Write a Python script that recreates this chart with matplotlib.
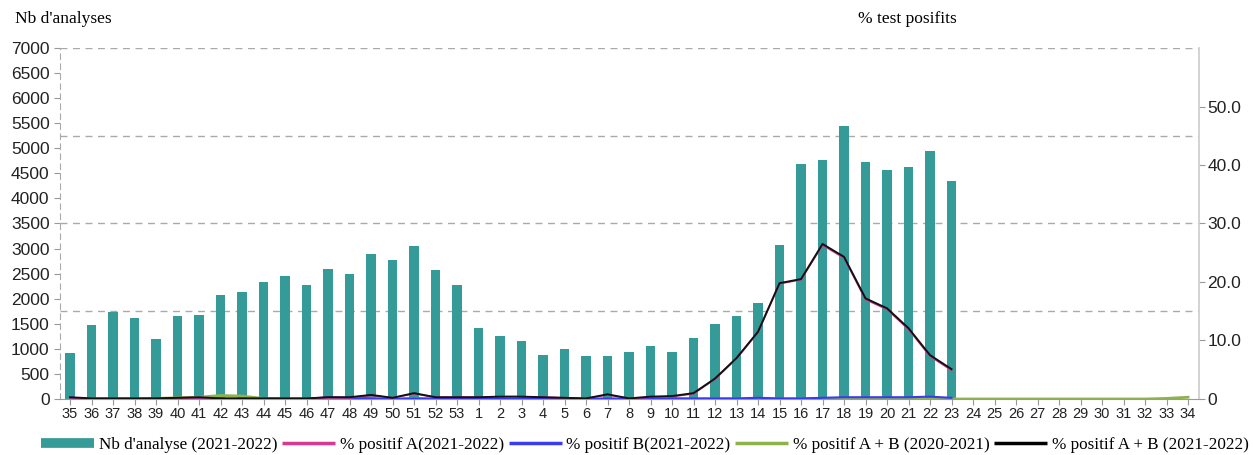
import numpy as np
import matplotlib
matplotlib.use('Agg')
import matplotlib.pyplot as plt
from matplotlib.lines import Line2D

# ── data ──────────────────────────────────────────────────────────────────────
weeks = [str(w) for w in range(35, 54)] + [str(w) for w in range(1, 35)]

nb_analyses = [920, 1480, 1740, 1610, 1200, 1660, 1680, 2070, 2130, 2340,
               2460, 2280, 2600, 2490, 2900, 2780, 3060, 2580, 2270,
               1420, 1250, 1150, 870, 1000, 860, 860, 930, 1060, 930,
               1210, 1500, 1660, 1910, 3070, 4690, 4760, 5440, 4720, 4560,
               4620, 4940, 4350]

pos_ab_2122 = [0.3, 0.1, 0.1, 0.1, 0.1, 0.2, 0.3, 0.1, 0.1, 0.1,
               0.1, 0.1, 0.3, 0.3, 0.7, 0.2, 1.0, 0.3, 0.3,
               0.3, 0.4, 0.4, 0.3, 0.2, 0.1, 0.8, 0.1, 0.4, 0.5,
               1.0, 3.5, 7.0, 11.5, 19.8, 20.5, 26.5, 24.3, 17.2, 15.5,
               12.1, 7.5, 5.1]

pos_a_2122 = [0.2, 0.1, 0.1, 0.1, 0.1, 0.1, 0.2, 0.1, 0.1, 0.1,
              0.1, 0.1, 0.2, 0.2, 0.6, 0.2, 0.9, 0.3, 0.3,
              0.3, 0.4, 0.4, 0.3, 0.2, 0.1, 0.7, 0.1, 0.3, 0.4,
              0.9, 3.4, 6.9, 11.4, 19.7, 20.4, 26.3, 24.1, 17.0, 15.3,
              11.9, 7.3, 4.9]

pos_b_2122 = [0.0, 0.0, 0.0, 0.0, 0.1, 0.1, 0.1, 0.0, 0.0, 0.0,
              0.0, 0.0, 0.3, 0.2, 0.1, 0.0, 0.1, 0.0, 0.0,
              0.0, 0.0, 0.0, 0.0, 0.0, 0.0, 0.1, 0.0, 0.1, 0.1,
              0.1, 0.1, 0.1, 0.2, 0.1, 0.1, 0.2, 0.3, 0.3, 0.3,
              0.3, 0.4, 0.2]

pos_ab_2021 = [0.0, 0.0, 0.0, 0.0, 0.1, 0.2, 0.3, 0.6, 0.5, 0.1,
               0.0, 0.0, 0.1, 0.1, 0.1, 0.0, 0.1, 0.1, 0.1,
               0.0, 0.0, 0.0, 0.0, 0.0, 0.0, 0.0, 0.0, 0.0, 0.0,
               0.0, 0.0, 0.0, 0.0, 0.0, 0.0, 0.0, 0.0, 0.0, 0.0,
               0.0, 0.0, 0.0, 0.0, 0.0, 0.0, 0.0, 0.0, 0.0, 0.0,
               0.0, 0.0, 0.1, 0.3]

teal = '#359b98'
pink = '#d6398f'
blue = '#3a3af5'
green = '#8fb24f'

# ── figure ────────────────────────────────────────────────────────────────────
fig = plt.figure(figsize=(12.53, 4.55), dpi=100)
ax = fig.add_axes([0.0479, 0.1231, 0.9090, 0.7714])
ax2 = ax.twinx()

x = np.arange(len(weeks))
n = len(nb_analyses)

ax.bar(x[:n], nb_analyses, width=0.43, color=teal, zorder=2)
ax.set_xlim(-0.465, 52.51)
ax.set_ylim(0, 7000)
ax.set_yticks(np.arange(0, 7001, 500))
ax.set_xticks(x)
ax.set_xticklabels(weeks)

for g in [1750, 3500, 5250, 7000]:
    ax.axhline(g, color='#aaaaaa', linestyle=(0, (5, 4)), linewidth=1.0, zorder=1)

ax2.plot(x[:len(pos_ab_2021)], pos_ab_2021, color=green, linewidth=2.0, zorder=3)
ax2.plot(x[:n], pos_b_2122, color=blue, linewidth=1.5, zorder=4)
ax2.plot(x[:n], pos_a_2122, color=pink, linewidth=1.2, zorder=5)
ax2.plot(x[:n], pos_ab_2122, color='#111111', linewidth=1.4, zorder=6)
ax2.set_ylim(0, 60)
ax2.set_yticks([0, 10, 20, 30, 40, 50])
ax2.set_yticklabels(['0', '10.0', '20.0', '30.0', '40.0', '50.0'])

tickfont = 'Liberation Sans'
for a in (ax, ax2):
    a.tick_params(axis='y', labelsize=12.5, colors='#222222', length=4, width=0.8)
    for lbl in a.get_yticklabels():
        lbl.set_family(tickfont)
ax.tick_params(axis='y', color='#999999')
ax2.tick_params(axis='y', color='#999999', pad=2)
ax.tick_params(axis='x', labelsize=10.5, colors='#222222', length=4, width=0.8, pad=2)
ax.tick_params(axis='x', color='#999999')
for lbl in ax.get_xticklabels():
    lbl.set_family(tickfont)

for a in (ax, ax2):
    for s in ('top', 'left', 'right', 'bottom'):
        a.spines[s].set_visible(False)
ax2.spines['right'].set_visible(True)
ax2.spines['right'].set_color('#cccccc')
ax2.spines['right'].set_linewidth(1.2)
ax2.spines['left'].set_visible(True)
ax2.spines['left'].set_color('#aaaaaa')
ax2.spines['left'].set_linestyle((0, (5, 4)))
ax2.spines['bottom'].set_visible(True)
ax2.spines['bottom'].set_color('#999999')

serif = 'Liberation Serif'
fig.text(15 / 1253, 1 - 19 / 455, "Nb d'analyses", family=serif, fontsize=12.5,
         va='center', ha='left')
fig.text(858 / 1253, 1 - 19 / 455, "% test posifits", family=serif, fontsize=12.5,
         va='center', ha='left')

handles = [Line2D([0], [0], color=teal, linewidth=7, solid_capstyle='butt'),
           Line2D([0], [0], color=pink, linewidth=2.5, solid_capstyle='butt'),
           Line2D([0], [0], color=blue, linewidth=2.5, solid_capstyle='butt'),
           Line2D([0], [0], color=green, linewidth=2.5, solid_capstyle='butt'),
           Line2D([0], [0], color='black', linewidth=2.5, solid_capstyle='butt')]
labels = ["Nb d'analyse (2021-2022)", "% positif A(2021-2022)",
          "% positif B(2021-2022)", "% positif A + B (2020-2021)",
          "% positif A + B (2021-2022)"]
fig.legend(handles, labels, loc='center', bbox_to_anchor=(645 / 1253, 1 - 445 / 455),
           ncol=5, frameon=False, prop={'family': serif, 'size': 12.3},
           handlelength=3.1, handletextpad=0.25, columnspacing=0.3,
           borderpad=0, borderaxespad=0)

fig.savefig('out.png', dpi=100)
